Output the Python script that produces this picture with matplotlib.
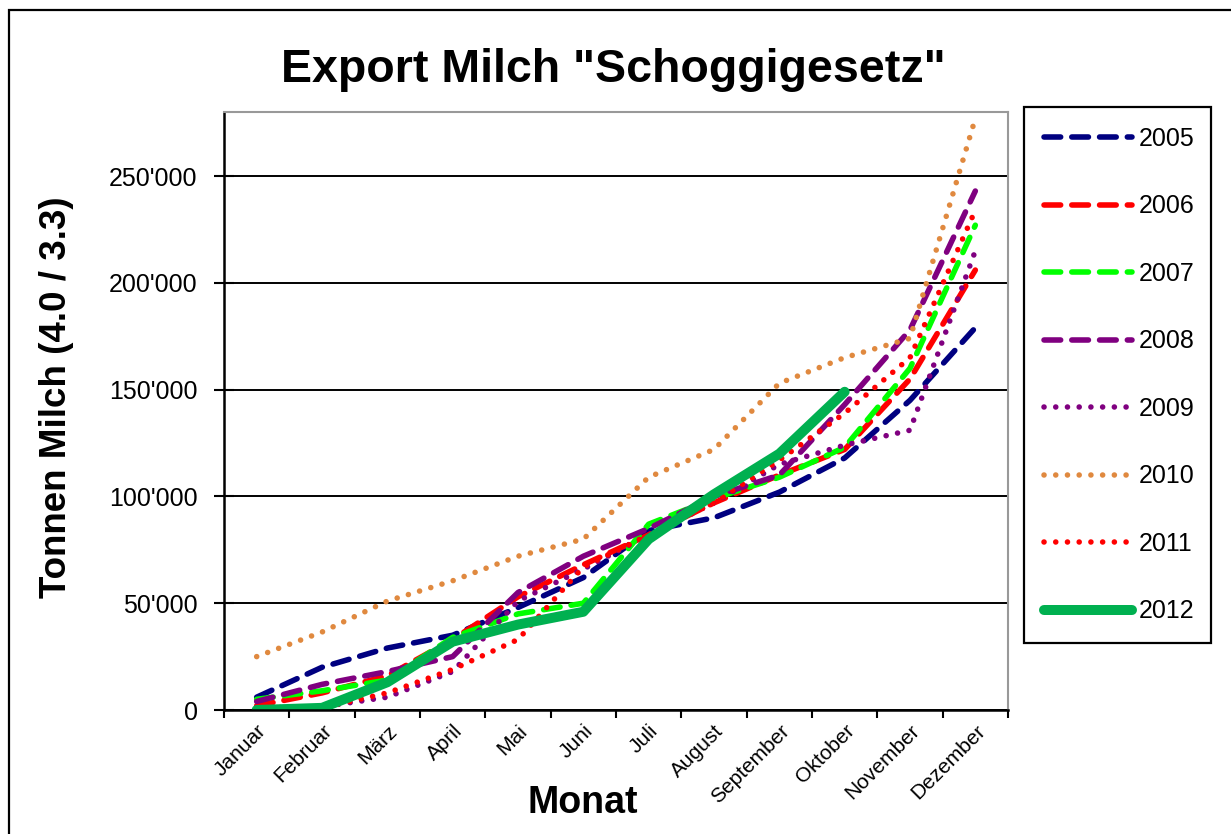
import numpy as np
import matplotlib
matplotlib.use('Agg')
import matplotlib.pyplot as plt
from matplotlib.patches import Rectangle
from matplotlib.ticker import FuncFormatter, MultipleLocator

plt.rcParams['font.family'] = ['Liberation Sans', 'DejaVu Sans']

W, H = 1231, 834

months = ['Januar', 'Februar', 'März', 'April', 'Mai', 'Juni', 'Juli',
          'August', 'September', 'Oktober', 'November', 'Dezember']

y2005 = [6000, 20000, 29000, 35000, 48000, 62000, 84000, 90000, 102000, 118000, 145000, 179000]
y2006 = [2000, 8000, 16000, 33000, 53000, 68000, 82000, 97000, 110000, 122000, 155000, 206000]
y2007 = [5000, 9000, 14000, 34000, 45000, 50000, 87000, 99000, 109000, 123000, 160000, 227000]
y2008 = [4000, 12000, 18000, 25000, 55000, 72000, 85000, 100000, 110000, 143000, 178000, 243000]
y2009 = [1000, 1500, 6000, 18000, 51000, 66000, 82000, 97000, 115000, 124000, 131000, 215000]
y2010 = [25000, 36500, 51000, 60500, 72000, 80000, 109000, 122000, 153000, 165000, 174000, 277000]
y2011 = [0, 1000, 8000, 19000, 33000, 67000, 82000, 97000, 117000, 139000, 165000, 234000]
y2012 = [0, 1000, 13000, 32000, 40000, 46000, 80000, 101000, 120000, 149000]

dash = (0, (3.0, 2.0))
dot = (0, (0.01, 2.1))
series = [
    ('2005', y2005, '#000080', dash, 4.0),
    ('2006', y2006, '#FF0000', dash, 4.0),
    ('2007', y2007, '#00FF00', dash, 4.0),
    ('2008', y2008, '#800080', dash, 4.0),
    ('2009', y2009, '#800080', dot, 4.0),
    ('2010', y2010, '#E0893F', dot, 4.0),
    ('2011', y2011, '#FF0000', dot, 4.0),
    ('2012', y2012, '#00B050', '-', 7.2),
]

fig = plt.figure(figsize=(W / 100, H / 100), dpi=100)

# outer chart border (clipped at right/bottom like the screenshot)
fig.patches.append(Rectangle((9 / W, -0.1), 1.2, 1 - 10 / H + 0.1, transform=fig.transFigure,
                             fill=False, edgecolor='black', linewidth=1.6))

left, right, top, bottom = 224, 1008, 112, 710
ax = fig.add_axes([left / W, 1 - bottom / H, (right - left) / W, (bottom - top) / H])

x = np.arange(len(months))
for name, vals, col, ls, lw in series:
    ax.plot(x[:len(vals)], vals, color=col, linestyle=ls, linewidth=lw,
            dash_capstyle='round', solid_capstyle='round', label=name)

ax.set_xlim(-0.5, 11.5)
ax.set_ylim(0, 280000)
ax.yaxis.set_major_locator(MultipleLocator(50000))
ax.yaxis.set_major_formatter(FuncFormatter(lambda v, p: f"{int(v):,}".replace(',', "'")))
ax.grid(axis='y', color='black', linewidth=1.4)
ax.set_axisbelow(True)

ax.set_xticks(x)
ax.set_xticklabels(months, rotation=45, ha='right', va='top', rotation_mode='anchor', fontsize=15)
ax.set_xticks(np.arange(-0.5, 12, 1), minor=True)
ax.tick_params(axis='x', which='major', length=0, pad=8)
ax.tick_params(axis='x', which='minor', direction='out', length=6, width=1.5)
ax.tick_params(axis='y', direction='inout', length=14, width=1.5, labelsize=18, pad=12)

for s in ['left', 'bottom']:
    ax.spines[s].set_linewidth(1.8)
for s in ['top', 'right']:
    ax.spines[s].set_color('#999999')
    ax.spines[s].set_linewidth(1.5)

fig.text(613 / W, 1 - 70 / H, 'Export Milch "Schoggigesetz"', ha='center', va='center',
         fontsize=33.5, fontweight='bold')
fig.text(57 / W, 1 - 397 / H, 'Tonnen Milch (4.0 / 3.3)', ha='center', va='center',
         rotation=90, fontsize=26.5, fontweight='bold')
fig.text(583 / W, 1 - 803 / H, 'Monat', ha='center', va='center',
         fontsize=27, fontweight='bold')

lx0, ly0, lx1, ly1 = 1024, 104, 1211, 646
leg = ax.legend(loc='center', bbox_to_anchor=(lx0 / W, 1 - ly1 / H, (lx1 - lx0) / W, (ly1 - ly0) / H),
                bbox_transform=fig.transFigure, mode='expand', fontsize=18, handlelength=3.5,
                handletextpad=0.3, labelspacing=1.74, borderpad=0.8, borderaxespad=0,
                fancybox=False, framealpha=1, edgecolor='black')
leg.get_frame().set_linewidth(1.6)

fig.savefig('out.png', dpi=100)
